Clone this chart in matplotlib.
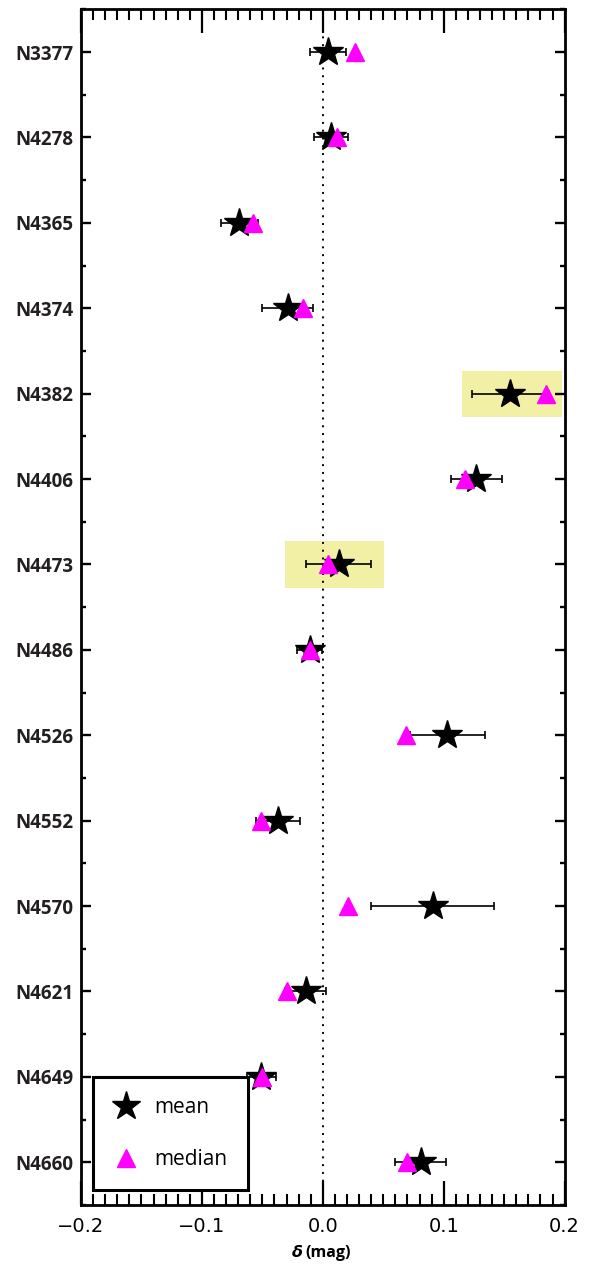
import matplotlib
matplotlib.use("Agg")
import matplotlib.pyplot as plt
from matplotlib.patches import Rectangle
from matplotlib.ticker import MultipleLocator
from matplotlib.lines import Line2D

galaxies = ["N3377", "N4278", "N4365", "N4374", "N4382", "N4406", "N4473",
            "N4486", "N4526", "N4552", "N4570", "N4621", "N4649", "N4660"]
mean_vals = [0.004, 0.007, -0.069, -0.029, 0.155, 0.127, 0.013,
             -0.011, 0.103, -0.037, 0.091, -0.014, -0.051, 0.081]
mean_errs = [0.015, 0.014, 0.015, 0.021, 0.032, 0.021, 0.027,
             0.010, 0.031, 0.018, 0.051, 0.017, 0.012, 0.021]
median_vals = [0.027, 0.012, -0.058, -0.016, 0.185, 0.118, 0.004,
               -0.011, 0.069, -0.051, 0.021, -0.030, -0.050, 0.070]
highlight = ["N4382", "N4473"]
highlight_xrange = [(0.1155, 0.1975), (-0.031, 0.051)]
xtick_vals = [-0.2, -0.1, 0.0, 0.1, 0.2]
xtick_labels = ["\u22120.2", "\u22120.1", "0.0", "0.1", "0.2"]

fig = plt.figure(figsize=(5.98, 12.72), dpi=100)
ax = fig.add_axes([81/598, 1 - 1205/1272, (564.6-81)/598, (1205-9.3)/1272])

ypos = list(range(len(galaxies)))

# highlight boxes
for g, (x0, x1) in zip(highlight, highlight_xrange):
    yi = galaxies.index(g)
    ax.add_patch(Rectangle((x0, yi - 0.27), x1 - x0, 0.54,
                           facecolor="#f2f0a4", edgecolor="none", zorder=1))

ax.axvline(0, color="black", linestyle=(0, (1, 3)), lw=1.4, zorder=2)

ax.errorbar(mean_vals, ypos, xerr=mean_errs, fmt="none", ecolor="black",
            elinewidth=1.2, capsize=3, capthick=1.2, zorder=3)
ax.plot(mean_vals, ypos, linestyle="none", marker="*", ms=22,
        color="black", zorder=4)
ax.plot(median_vals, ypos, linestyle="none", marker="^", ms=12.5,
        color="#ff00ff", zorder=5)

ax.set_xlim(-0.2, 0.2)
ax.set_ylim(len(galaxies) - 0.5, -0.5)

ax.set_yticks(ypos)
ax.set_yticklabels(galaxies, fontfamily="Open Sans", fontweight="bold",
                   fontsize=13.5, color="#231f20")
ax.set_xticks(xtick_vals)
ax.set_xticklabels(xtick_labels, fontfamily="DejaVu Sans", fontsize=14)
ax.xaxis.set_minor_locator(MultipleLocator(0.01))
ax.yaxis.set_minor_locator(MultipleLocator(0.5))

ax.tick_params(axis="x", which="major", direction="in", length=17, width=1.6,
               top=True, bottom=True, pad=9)
ax.tick_params(axis="x", which="minor", direction="in", length=8, width=1.5,
               top=True, bottom=True)
ax.tick_params(axis="y", which="major", direction="in", length=7, width=1.7,
               left=True, right=True, pad=5.5)
ax.tick_params(axis="y", which="minor", direction="in", length=3.3, width=1.7,
               left=True, right=True)
for sp in ax.spines.values():
    sp.set_linewidth(2.0)

# x label: bold italic delta + small bold (mag)
ax.text(0.459, -0.040, "\u03b4", transform=ax.transAxes, ha="right", va="center",
        fontfamily="DejaVu Sans", fontweight="bold", fontstyle="italic", fontsize=11.5)
ax.text(0.465, -0.040, "(mag)", transform=ax.transAxes, ha="left", va="center",
        fontfamily="Open Sans", fontweight="bold", fontsize=11.5)

handles = [Line2D([], [], linestyle="none", marker="*", ms=21, color="black"),
           Line2D([], [], linestyle="none", marker="^", ms=12.5, color="#ff00ff")]
leg = ax.legend(handles, ["mean", "median"], loc="lower left",
                bbox_to_anchor=(0.0254, 0.0125), borderaxespad=0,
                prop={"family": "Open Sans", "size": 15},
                frameon=True, fancybox=False, framealpha=1, edgecolor="black",
                borderpad=0.95, labelspacing=1.5, handletextpad=0.75,
                handlelength=1.25)
leg.get_frame().set_linewidth(2.2)
leg.set_zorder(3.5)

fig.savefig("out.png", dpi=100)
